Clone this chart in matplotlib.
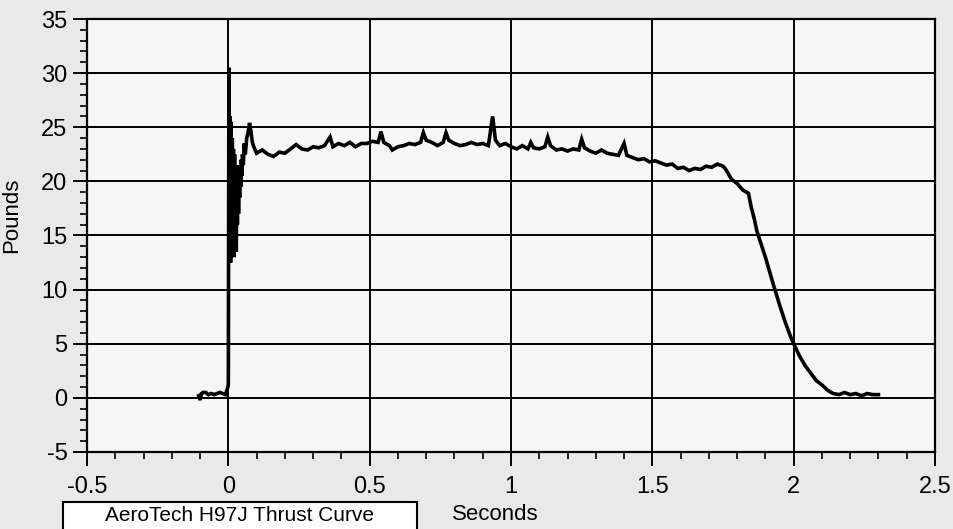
import numpy as np
import matplotlib.pyplot as plt
import matplotlib.patches as patches
from matplotlib.ticker import MultipleLocator

# thrust curve (seconds, pounds)
t_pre = [-0.105, -0.100, -0.095, -0.090, -0.080, -0.070, -0.060, -0.050,
         -0.040, -0.030, -0.020, -0.010, -0.003]
f_pre = [0.2, -0.2, 0.4, 0.5, 0.5, 0.3, 0.4, 0.3, 0.4, 0.5, 0.4, 0.3, 0.9]

t_spike = [0.000, 0.002, 0.004, 0.006, 0.008, 0.010, 0.012, 0.014, 0.016,
           0.018, 0.020, 0.022, 0.024, 0.026, 0.028, 0.030, 0.032, 0.034,
           0.036, 0.038, 0.040, 0.042, 0.044, 0.046, 0.048, 0.050, 0.053,
           0.056, 0.060, 0.065, 0.070, 0.075, 0.080, 0.085, 0.090]
f_spike = [1.2, 30.5, 14.0, 26.0, 12.5, 25.5, 13.5, 24.0, 14.5,
           23.0, 13.0, 22.5, 15.5, 21.0, 13.5, 20.5, 16.0, 21.5,
           17.0, 20.0, 18.5, 21.0, 19.5, 22.0, 20.5, 22.5, 21.5,
           23.5, 22.5, 24.0, 24.5, 25.4, 24.6, 23.6, 23.2]

t_burn = [0.10, 0.12, 0.14, 0.16, 0.18, 0.20, 0.22, 0.24, 0.26, 0.28, 0.30,
          0.32, 0.34, 0.36, 0.37, 0.39, 0.41, 0.43, 0.45, 0.47, 0.49, 0.51,
          0.53, 0.54, 0.55, 0.57, 0.58, 0.60, 0.62, 0.64, 0.66, 0.68, 0.69,
          0.70, 0.72, 0.74, 0.76, 0.77, 0.78, 0.80, 0.82, 0.84, 0.86, 0.88,
          0.90, 0.92, 0.935, 0.945, 0.96, 0.98, 1.00, 1.02, 1.04, 1.06, 1.07,
          1.08, 1.10, 1.12, 1.13, 1.14, 1.16, 1.18, 1.20, 1.22, 1.24, 1.25,
          1.26, 1.28, 1.30, 1.32, 1.34, 1.36, 1.38, 1.40, 1.41, 1.43, 1.45,
          1.47, 1.49, 1.51, 1.53, 1.55, 1.57, 1.59, 1.61, 1.63, 1.65, 1.67,
          1.69, 1.71, 1.73, 1.75]
f_burn = [22.6, 22.9, 22.5, 22.3, 22.7, 22.6, 23.0, 23.4, 23.0, 22.9, 23.2,
          23.1, 23.3, 24.1, 23.2, 23.5, 23.3, 23.6, 23.2, 23.5, 23.5, 23.7,
          23.6, 24.6, 23.6, 23.3, 22.9, 23.2, 23.3, 23.5, 23.4, 23.6, 24.5,
          23.8, 23.6, 23.3, 23.6, 24.5, 23.8, 23.5, 23.3, 23.4, 23.6, 23.4,
          23.5, 23.3, 26.0, 23.8, 23.3, 23.5, 23.2, 23.0, 23.3, 23.0, 23.6,
          23.1, 23.0, 23.2, 24.1, 23.3, 22.9, 23.0, 22.8, 23.0, 22.9, 23.9,
          23.1, 22.8, 22.6, 22.9, 22.6, 22.5, 22.4, 23.5, 22.4, 22.2, 22.0,
          22.1, 21.8, 21.9, 21.7, 21.5, 21.6, 21.2, 21.3, 21.0, 21.2, 21.1,
          21.4, 21.3, 21.6, 21.4]

t_tail = [1.76, 1.78, 1.80, 1.82, 1.84, 1.85, 1.86, 1.87, 1.88, 1.90, 1.92,
          1.93, 1.95, 1.97, 1.99, 2.00, 2.02, 2.04, 2.06, 2.08, 2.10, 2.12,
          2.14, 2.16, 2.18, 2.20, 2.22, 2.24, 2.26, 2.28, 2.30]
f_tail = [21.1, 20.2, 19.8, 19.2, 18.9, 17.6, 16.6, 15.4, 14.6, 13.0, 11.2,
          10.3, 8.6, 7.0, 5.6, 5.0, 3.9, 3.0, 2.3, 1.6, 1.2, 0.7,
          0.4, 0.3, 0.5, 0.3, 0.4, 0.2, 0.4, 0.3, 0.3]

t = t_pre + t_spike + t_burn + t_tail
f = f_pre + f_spike + f_burn + f_tail

x_ticks = [-0.5, 0, 0.5, 1, 1.5, 2, 2.5]
x_labels = ['-0.5', '0', '0.5', '1', '1.5', '2', '2.5']
y_ticks = [-5, 0, 5, 10, 15, 20, 25, 30, 35]

plt.rcParams['font.family'] = ['Liberation Sans', 'DejaVu Sans']
plt.rcParams['axes.unicode_minus'] = False

fig = plt.figure(figsize=(9.54, 5.29), dpi=100, facecolor='#e9e9e9')
ax = fig.add_axes([87 / 954, 1 - 452 / 529, 848 / 954, 433 / 529])
ax.set_facecolor('#f6f6f6')

ax.plot(t, f, color='black', lw=2.6, solid_joinstyle='miter')

ax.set_xlim(-0.5, 2.5)
ax.set_ylim(-5, 35)
ax.set_xticks(x_ticks)
ax.set_xticklabels(x_labels)
ax.set_yticks(y_ticks)
ax.xaxis.set_minor_locator(MultipleLocator(0.1))
ax.yaxis.set_minor_locator(MultipleLocator(1))
ax.grid(True, which='major', color='black', lw=1.4)
ax.set_axisbelow(True)

ax.tick_params(which='major', direction='out', length=10, width=1.4,
               labelsize=17, pad=4, color='black')
ax.tick_params(axis='x', which='major', pad=7)
ax.tick_params(which='minor', direction='out', length=5, width=1.2)
for s in ax.spines.values():
    s.set_linewidth(1.6)

fig.text(12 / 954, 1 - 215 / 529, 'Pounds', rotation=90, fontsize=16,
         ha='center', va='center')
fig.text(495 / 954, 1 - 514 / 529, 'Seconds', fontsize=16,
         ha='center', va='center')

box = patches.Rectangle((63 / 954, -0.05), (417 - 63) / 954, 0.05 + 27 / 529,
                        transform=fig.transFigure, facecolor='white',
                        edgecolor='black', lw=1.5)
fig.patches.append(box)
fig.text(240 / 954, 4 / 529, 'AeroTech H97J Thrust Curve', fontsize=15,
         ha='center', va='bottom')

fig.savefig('out.png', dpi=100, facecolor=fig.get_facecolor())
